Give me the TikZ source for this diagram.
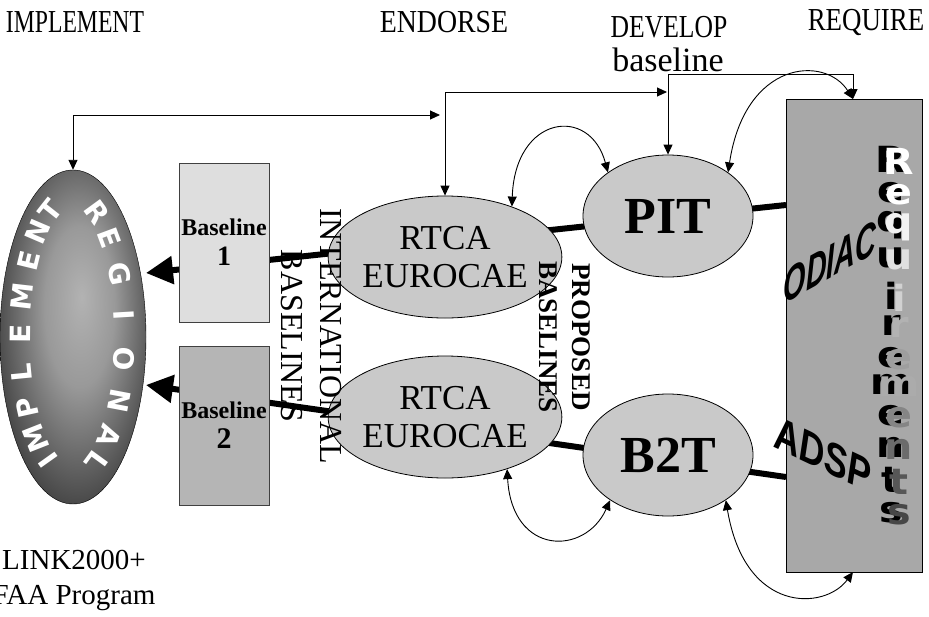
\documentclass[tikz,border=0pt]{standalone}
\usepackage{fontspec}
\setmainfont{Liberation Serif}
\newfontfamily\wa{Liberation Sans}
\newfontfamily\heavy{DejaVu Sans}
\usetikzlibrary{arrows.meta,shapes.geometric}
\pgfdeclarelayer{bg}
\pgfsetlayers{bg,main}
\pgfdeclareradialshading{regshade}{\pgfpoint{3bp}{6bp}}{color(0bp)=(black!30); color(12bp)=(black!40); color(30bp)=(black!76); color(44bp)=(black!97); color(50bp)=(black)}
\definecolor{ovalgray}{gray}{0.79}
\definecolor{boxA}{gray}{0.87}
\definecolor{boxB}{gray}{0.71}
\definecolor{reqgray}{gray}{0.66}
\begin{document}
\begin{tikzpicture}[x=1pt,y=-1pt,
  hdr/.style={inner sep=0, font=\fontsize{32}{34}\selectfont},
  oval/.style={ellipse, draw=black, line width=0.8pt, fill=ovalgray, minimum width=170pt, minimum height=122pt, inner sep=0, align=center},
  blbox/.style={rectangle, draw=black!75, line width=1pt, minimum width=90pt, minimum height=159pt, inner sep=0, align=center, font=\bfseries\fontsize{24}{30}\selectfont},
  thicklink/.style={line width=6pt, -{Triangle[length=27pt,width=27pt]}},
  link/.style={line width=0.9pt, {Triangle[length=10pt,width=9pt]}-{Triangle[length=10pt,width=9pt]}},
  regl/.style={inner sep=0, text=white, font=\heavy\bfseries\fontsize{28}{28}\selectfont},
  rql/.style={inner sep=0, xscale=1.1, font=\heavy\bfseries\fontsize{36}{36}\selectfont},
  wordart/.style={inner sep=0, font=\wa\bfseries\itshape\fontsize{48}{48}\selectfont}
]
\useasboundingbox (0,0) rectangle (929,616);

% headers
\node[hdr, xscale=0.74] (hImp) at (75,22) {IMPLEMENT};
\node[hdr, xscale=0.87] (hEnd) at (444,22) {ENDORSE};
\node[hdr, xscale=0.80] (hDev) at (669,27) {DEVELOP};
\node[hdr, xscale=0.84] (hReq) at (866,22) {REQUIRE};
\node[inner sep=0, font=\fontsize{34}{36}\selectfont] (hBase) at (668,60) {baseline};

% regional oval
\node[ellipse, minimum width=146pt, minimum height=334pt, inner sep=0, shading=regshade, draw=black] (reg) at (73,337) {};
\foreach \ch [count=\k from 0] in {I,M,P,L,E,M,E,N,T} {
  \pgfmathsetmacro\th{242-15.8*\k}
  \pgfmathsetmacro\px{73+53*cos(\th)}
  \pgfmathsetmacro\py{337-140*sin(\th)}
  \pgfmathsetmacro\rt{atan2(-140*cos(\th),53*sin(\th))}
  \node[regl, rotate=\rt] (imp\k) at (\px,\py) {\ch};
}
\foreach \ch [count=\k from 0] in {R,E,G,I,O,N,A,L} {
  \pgfmathsetmacro\th{63-18*\k}
  \pgfmathsetmacro\px{73+52*cos(\th)}
  \pgfmathsetmacro\py{337-140*sin(\th)}
  \pgfmathsetmacro\rt{atan2(-140*cos(\th),52*sin(\th))}
  \node[regl, rotate=\rt] (rgn\k) at (\px,\py) {\ch};
}
\node[inner sep=0, align=center, font=\fontsize{29}{35}\selectfont] (prog) at (74,580) {LINK2000+\\FAA Program};

% boxes and ovals
\node[blbox, fill=boxA] (bl1) at (224,242.5) {Baseline\\{\fontsize{28}{30}\selectfont 1}};
\node[blbox, fill=boxB] (bl2) at (224,425.5) {Baseline\\{\fontsize{30}{30}\selectfont 2}};
\node[oval, font=\fontsize{35}{38}\selectfont] (rt1) at (445,257) {RTCA\\EUROCAE};
\node[oval, font=\fontsize{35}{38}\selectfont] (rt2) at (445,417) {RTCA\\EUROCAE};
\node[oval, font=\bfseries\fontsize{52}{54}\selectfont] (pit) at (668,216) {PIT};
\node[oval, font=\bfseries\fontsize{52}{54}\selectfont] (b2t) at (668,455) {B2T};
\node[rectangle, draw=black, line width=1pt, fill=reqgray, minimum width=136pt, minimum height=473pt, inner sep=0] (req) at (854,335.5) {};

% rotated labels
\node[rotate=-90, align=center, inner sep=0, font=\fontsize{32}{39}\selectfont] (intl) at (311,336) {INTERNATIONAL\\BASELINES};
\node[rotate=-90, align=center, inner sep=0, font=\bfseries\fontsize{27}{33}\selectfont] (prop) at (565,337) {PROPOSED\\BASELINES};

% word art
\node[wordart, yslant=0.55, xscale=0.6] (odiac) at (830,262) {ODIAC};
\node[wordart, yslant=-0.47, xscale=0.72] (adsp) at (823,454) {ADSP};
\foreach \ch/\yy/\col [count=\i] in {R/161/white, e/195/white, q/227/white!95!black, u/260/black!12, i/298/black!18, r/327/black!30, e/360/black!38, m/386/black!33, e/418/black!48, n/449/black!58, t/482/black!66, s/515/black!72} {
  \node[rql, text=black] (rqs\i) at (891,\yy-2) {\ch};
  \node[rql, text=\col] (rqf\i) at (899,\yy) {\ch};
}

% thick flows
\coordinate (e1) at (786,205);
\coordinate (t1) at (146,273);
\coordinate (e2) at (786,477);
\coordinate (t2) at (146,385);
\begin{pgfonlayer}{bg}
\draw[thicklink] (e1) -- (t1);
\draw[thicklink] (e2) -- (t2);
\end{pgfonlayer}

% thin links
\coordinate (a1) at (440,115);
\coordinate (b1c) at (667,92);
\coordinate (rq1) at (853,99);
\coordinate (rq3) at (853,572);
\draw[link] (a1) -| (reg.north);
\draw[link] (b1c) -| (rt1.north);
\draw[link] (pit.north) -- ++(0,-80) -| (rq1);
\draw[link] (rt1.37) .. controls (515,115) and (590,105) .. (pit.144);
\draw[link] (pit.36) .. controls (745,60) and (825,55) .. (rq1);
\draw[link] (rt2.320) .. controls (512,556) and (585,556) .. (b2t.218);
\draw[link] (b2t.322) .. controls (745,615) and (825,610) .. (rq3);
\end{tikzpicture}
\end{document}
